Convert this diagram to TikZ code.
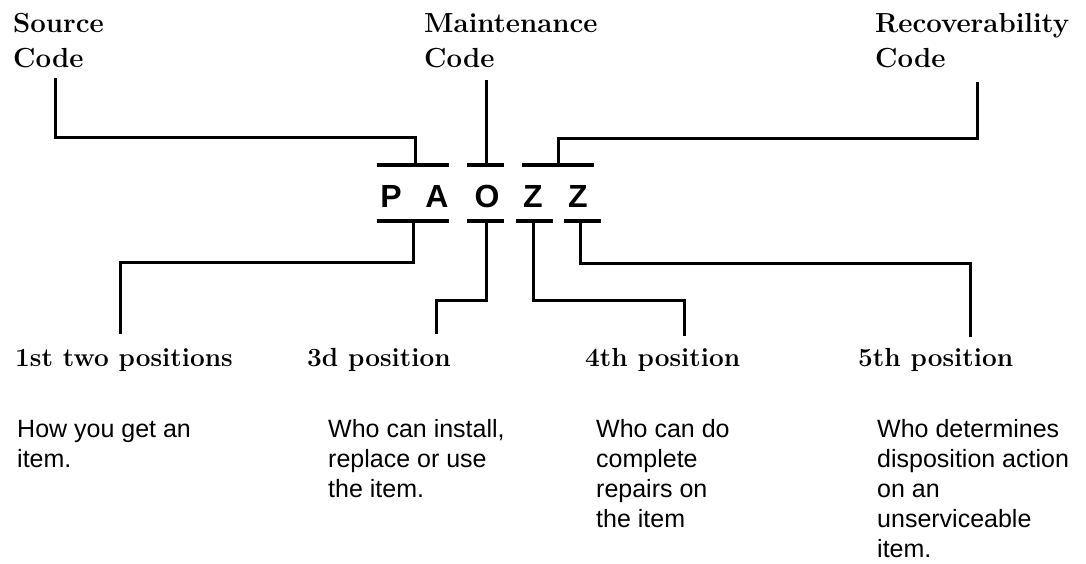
\documentclass[tikz,border=0pt]{standalone}
\usepackage{fontspec}
\newfontfamily\descfont{Liberation Sans}
\newfontfamily\letterfont{Liberation Sans}
\begin{document}
\begin{tikzpicture}[x=1pt,y=-1pt,
  conn/.style={line width=3pt,line cap=butt,line join=miter},
  barline/.style={line width=4pt},
  toplabel/.style={anchor=base west,inner sep=0pt,align=left,font=\fontsize{27.6}{35}\selectfont\bfseries},
  botlabel/.style={anchor=base west,inner sep=0pt,font=\fontsize{26.2}{30}\selectfont\bfseries},
  desc/.style={anchor=base west,inner sep=0pt,align=left,font=\descfont\fontsize{25}{30}\selectfont},
  letter/.style={inner sep=0pt,font=\letterfont\fontsize{32}{32}\selectfont\bfseries}]
\useasboundingbox[fill=white] (0,0) rectangle (1086,563);
% top labels (anchor = baseline of last line)
\node[toplabel] (src) at (13,67) {Source\\Code};
\node[toplabel] (mnt) at (424,67) {Maintenance\\Code};
\node[toplabel] (rec) at (875,67) {Recoverability\\Code};
% letters
\node[letter] (P) at (391,196) {P};
\node[letter] (A) at (437,196) {A};
\node[letter] (O) at (487,196) {O};
\node[letter] (Z1) at (533,196) {Z};
\node[letter] (Z2) at (578,196) {Z};
% bars
\coordinate (tPAl) at (377,165); \coordinate (tPAr) at (449,165);
\coordinate (tOl) at (467,165);  \coordinate (tOr) at (504,165);
\coordinate (tZl) at (522,165);  \coordinate (tZr) at (594,165);
\coordinate (bPAl) at (377,221); \coordinate (bPAr) at (449,221);
\coordinate (bOl) at (467,221);  \coordinate (bOr) at (504,221);
\coordinate (bZ1l) at (516,221); \coordinate (bZ1r) at (553,221);
\coordinate (bZ2l) at (564,221); \coordinate (bZ2r) at (601,221);
\draw[barline] (tPAl) -- (tPAr);
\draw[barline] (tOl) -- (tOr);
\draw[barline] (tZl) -- (tZr);
\draw[barline] (bPAl) -- (bPAr);
\draw[barline] (bOl) -- (bOr);
\draw[barline] (bZ1l) -- (bZ1r);
\draw[barline] (bZ2l) -- (bZ2r);
% top connectors
\coordinate (srcS) at (55,78);
\coordinate (srcE) at (415,165);
\draw[conn] (srcS) |- (415,137) -- (srcE);
\coordinate (mntS) at (486,80);
\coordinate (mntE) at (486,165);
\draw[conn] (mntS) -- (mntE);
\coordinate (recS) at (977,82);
\coordinate (recE) at (558,165);
\draw[conn] (recS) |- (558,138) -- (recE);
% bottom labels
\node[botlabel] (l1) at (15,366) {1st two positions};
\node[botlabel] (l3) at (307,366) {3d position};
\node[botlabel] (l4) at (585,366) {4th position};
\node[botlabel] (l5) at (858,366) {5th position};
% bottom connectors
\coordinate (bPAc) at (413,221);
\coordinate (bOc) at (486,221);
\coordinate (bZ1c) at (533,221);
\coordinate (bZ2c) at (580,221);
\coordinate (e1) at (120,334);
\coordinate (e3) at (436,334);
\coordinate (e4) at (684,336);
\coordinate (e5) at (970,337);
\draw[conn] (bPAc) -- (413,262) -| (e1);
\draw[conn] (bOc) -- (486,300) -| (e3);
\draw[conn] (bZ1c) -- (533,300) -| (e4);
\draw[conn] (bZ2c) -- (580,263) -| (e5);
% descriptions (anchor = baseline of last line)
\node[desc] (d1) at (17,467) {How you get an\\item.};
\node[desc] (d3) at (328,497) {Who can install,\\replace or use\\the item.};
\node[desc] (d4) at (596,527) {Who can do\\complete\\repairs on\\the item};
\node[desc] (d5) at (877,557) {Who determines\\disposition action\\on an\\unserviceable\\item.};
\end{tikzpicture}
\end{document}
